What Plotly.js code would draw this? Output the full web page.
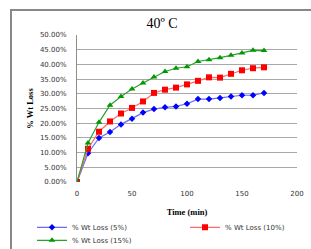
<!DOCTYPE html>
<html>
<head>
<meta charset="utf-8">
<script src="https://cdn.plot.ly/plotly-3.0.1.min.js"></script>
<style>html,body{margin:0;padding:0;background:#fff;overflow:hidden;}#chart{width:311px;height:300px;}</style>
</head>
<body>
<div id="chart"></div>
<script>
var timeMin = [0,10,20,30,40,50,60,70,80,90,100,110,120,130,140,150,160,170];
var loss5  = [0, 9.8, 15.0, 17.0, 19.6, 21.5, 23.6, 24.8, 25.4, 25.7, 26.6, 28.2, 28.2, 28.6, 29.1, 29.5, 29.5, 30.3];
var loss10 = [0, 11.3, 17.1, 20.6, 23.3, 25.2, 27.4, 30.3, 31.4, 32.1, 33.2, 34.4, 35.6, 35.5, 36.8, 38.0, 38.7, 39.0];
var loss15 = [0, 13.3, 20.3, 26.1, 29.1, 31.6, 33.7, 35.7, 37.6, 38.7, 39.2, 41.0, 41.6, 42.3, 43.1, 43.9, 44.8, 44.7];
var seriesNames = ['% Wt Loss (5%)', '% Wt Loss (10%)', '% Wt Loss (15%)'];
var titleText = '40º C';
var xTitle = 'Time (min)';
var yTitle = '% Wt Loss';

var H = 300, plotTop = 35, plotBottom = 182, plotLeft = 77, plotRight = 297;
var PH = plotBottom - plotTop, PW = plotRight - plotLeft;
function px(x) { return (x - plotLeft) / PW; }
function py(y) { return (plotBottom - y) / PH; }

var legFont = {family: 'DejaVu Sans', size: 7, color: '#333'};
var traces = [
  {x: timeMin, y: loss5, name: seriesNames[0], mode: 'lines+markers', type: 'scatter',
   line: {color: '#6a6aff', width: 1.2}, marker: {color: '#0000ff', symbol: 'diamond', size: 5}, legend: 'legend'},
  {x: timeMin, y: loss10, name: seriesNames[1], mode: 'lines+markers', type: 'scatter',
   line: {color: '#ff6a6a', width: 1.2}, marker: {color: '#ff0000', symbol: 'square', size: 6}, legend: 'legend2'},
  {x: timeMin, y: loss15, name: seriesNames[2], mode: 'lines+markers', type: 'scatter',
   line: {color: '#2ca02c', width: 1.2}, marker: {color: '#009900', symbol: 'triangle-up', size: 6}, legend: 'legend3'}
];

function leg(xp, yp) {
  return {orientation: 'h', x: px(xp), xanchor: 'left', y: py(yp), yanchor: 'middle',
          font: legFont, bgcolor: 'rgba(0,0,0,0)', borderwidth: 0, itemwidth: 30};
}

var layout = {
  width: 311, height: H,
  margin: {l: plotLeft, r: 311 - plotRight, t: plotTop, b: H - plotBottom, pad: 0},
  paper_bgcolor: '#fff', plot_bgcolor: '#fff',
  title: {text: titleText, font: {family: 'Liberation Serif', size: 14, color: '#000'},
          xref: 'container', x: 162/311, yref: 'container', y: 1 - 22.7/H, xanchor: 'center', yanchor: 'middle'},
  xaxis: {range: [0, 200], dtick: 50, tick0: 0, showgrid: false, zeroline: false, showline: false,
          ticks: '', ticklabelstandoff: 6, automargin: false,
          tickfont: {family: 'DejaVu Sans', size: 7, color: '#333'},
          title: {text: '<b>' + xTitle + '</b>', font: {family: 'Liberation Serif', size: 8.5, color: '#000'}, standoff: 12}},
  yaxis: {range: [0, 50], dtick: 5, tick0: 0, tickformat: '.2f', ticksuffix: '%',
          showgrid: true, gridcolor: '#a8a8a8', gridwidth: 1, zeroline: false, automargin: false,
          showline: true, linecolor: '#8c8c8c', linewidth: 1, ticks: '', ticklabelstandoff: 8,
          tickfont: {family: 'DejaVu Sans', size: 7, color: '#333'},
          title: {text: '<b>' + yTitle + '</b>', font: {family: 'Liberation Serif', size: 8.5, color: '#000'}, standoff: 4}},
  legend: leg(32, 227.3),
  legend2: leg(185, 227.3),
  legend3: leg(32, 240.3),
  shapes: [{type: 'rect', xref: 'paper', yref: 'paper',
            x0: px(11), x1: px(330), y0: py(320), y1: py(10),
            line: {color: '#888', width: 2}, fillcolor: 'rgba(0,0,0,0)', layer: 'below'}],
  showlegend: true
};

Plotly.newPlot('chart', traces, layout, {staticPlot: true, displayModeBar: false});
</script>
</body>
</html>
